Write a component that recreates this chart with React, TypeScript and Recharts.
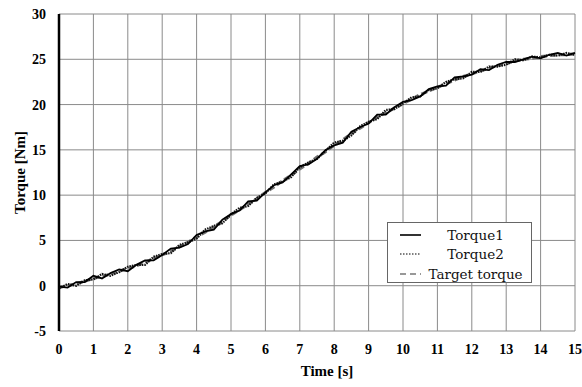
import React from "react";
import { LineChart, Line, XAxis, YAxis, CartesianGrid, Label } from "recharts";

// Sample times (s), every 0.25 s from 0 to 15
const times: number[] = [
  0, 0.25, 0.5, 0.75, 1, 1.25, 1.5, 1.75, 2, 2.25, 2.5, 2.75, 3, 3.25, 3.5, 3.75,
  4, 4.25, 4.5, 4.75, 5, 5.25, 5.5, 5.75, 6, 6.25, 6.5, 6.75, 7, 7.25, 7.5, 7.75,
  8, 8.25, 8.5, 8.75, 9, 9.25, 9.5, 9.75, 10, 10.25, 10.5, 10.75, 11, 11.25, 11.5, 11.75,
  12, 12.25, 12.5, 12.75, 13, 13.25, 13.5, 13.75, 14, 14.25, 14.5, 14.75, 15,
];

// Measured torque, motor 1 (Nm)
const torque1: number[] = [
  -0.1, -0.2, 0.4, 0.4, 1.1, 0.8, 1.4, 1.8, 1.6, 2.3, 2.8, 2.8, 3.4, 4.1, 4.2, 4.6,
  5.6, 6.0, 6.2, 7.3, 7.9, 8.3, 9.3, 9.4, 10.3, 11.1, 11.4, 12.3, 13.2, 13.4, 14.0, 15.0,
  15.5, 15.8, 17.0, 17.5, 17.9, 18.9, 18.9, 19.7, 20.3, 20.5, 20.9, 21.7, 22.0, 22.1, 23.0, 23.1,
  23.3, 23.9, 23.8, 24.4, 24.7, 24.7, 25.0, 25.3, 25.1, 25.5, 25.7, 25.4, 25.7,
];

// Measured torque, motor 2 (Nm)
const torque2: number[] = [
  -0.3, 0.2, 0.0, 0.6, 0.7, 1.3, 1.1, 1.5, 2.1, 2.3, 2.3, 3.2, 3.5, 3.6, 4.5, 4.8,
  5.2, 6.2, 6.6, 6.9, 7.9, 8.6, 8.8, 9.7, 10.2, 11.2, 11.5, 12.0, 13.1, 13.6, 14.0, 14.9,
  15.8, 16.0, 16.6, 17.6, 18.1, 18.4, 19.4, 19.5, 20.1, 20.8, 20.9, 21.6, 21.8, 22.5, 22.8, 22.9,
  23.6, 23.6, 24.2, 24.2, 24.4, 25.0, 24.9, 25.3, 25.2, 25.5, 25.4, 25.7, 25.5,
];

// Commanded torque profile (Nm)
const targetTorque: number[] = [
  -0.2, 0.0, 0.2, 0.5, 0.8, 1.0, 1.3, 1.6, 1.9, 2.2, 2.6, 3.0, 3.4, 3.8, 4.3, 4.8,
  5.4, 5.9, 6.5, 7.1, 7.8, 8.4, 9.0, 9.6, 10.3, 10.9, 11.6, 12.2, 12.9, 13.5, 14.2, 14.8,
  15.5, 16.1, 16.8, 17.4, 18.0, 18.6, 19.1, 19.6, 20.1, 20.6, 21.1, 21.5, 21.9, 22.3, 22.7, 23.1,
  23.4, 23.7, 24.0, 24.3, 24.5, 24.8, 25.0, 25.1, 25.3, 25.4, 25.5, 25.5, 25.6,
];

const xTicks: number[] = [0, 1, 2, 3, 4, 5, 6, 7, 8, 9, 10, 11, 12, 13, 14, 15];
const yTicks: number[] = [-5, 0, 5, 10, 15, 20, 25, 30];

const seriesNames = ["Torque1", "Torque2", "Target torque"];

const data = times.map((t, i) => ({
  t,
  torque1: torque1[i],
  torque2: torque2[i],
  target: targetTorque[i],
}));

const tickFont = {
  fontFamily: "'Liberation Serif', serif",
  fontWeight: 700,
  fontSize: 14,
  fill: "#000",
};

const titleFont = { ...tickFont, fontSize: 15 };

const legendSamples = [
  { stroke: "#000", dash: "none", width: 1.6 },
  { stroke: "#000", dash: "1.5 1.5", width: 1.2 },
  { stroke: "#777", dash: "6 4", width: 1.6 },
];

function LegendBox() {
  return (
    <div
      style={{
        position: "absolute",
        left: 387,
        top: 222,
        width: 145,
        height: 61,
        border: "1px solid #666",
        background: "#fff",
        boxSizing: "border-box",
        fontFamily: "'DejaVu Serif', serif",
        fontSize: 13.5,
        color: "#111",
        paddingTop: 2,
      }}
    >
      {seriesNames.map((name, i) => (
        <div
          key={name}
          style={{ display: "flex", alignItems: "center", height: 19.5 }}
        >
          <svg width={36} height={10} style={{ flex: "none" }}>
            <line
              x1={12}
              x2={33}
              y1={5}
              y2={5}
              stroke={legendSamples[i].stroke}
              strokeWidth={legendSamples[i].width}
              strokeDasharray={legendSamples[i].dash}
            />
          </svg>
          <div style={{ flex: 1, textAlign: "center", whiteSpace: "nowrap", paddingRight: 4 }}>
            {name}
          </div>
        </div>
      ))}
    </div>
  );
}

export default function App() {
  return (
    <div
      style={{
        position: "absolute",
        left: 0,
        top: 0,
        width: 582,
        height: 387,
        background: "#fff",
      }}
    >
      <LineChart
        width={582}
        height={387}
        data={data}
        margin={{ top: 14, right: 7, bottom: 0, left: 0 }}
      >
        <CartesianGrid stroke="#8a8a8a" strokeWidth={1} />
        <XAxis
          dataKey="t"
          type="number"
          domain={[0, 15]}
          ticks={xTicks}
          interval={0}
          axisLine={false}
          tickLine={false}
          tickSize={0}
          tickMargin={13}
          height={56}
          tick={tickFont}
        >
          <Label
            value="Time [s]"
            position="insideBottom"
            offset={11}
            dx={10}
            style={titleFont}
          />
        </XAxis>
        <YAxis
          type="number"
          domain={[-5, 30]}
          ticks={yTicks}
          interval={0}
          axisLine={{ stroke: "#000", strokeWidth: 2.5 }}
          tickLine={false}
          tickSize={0}
          tickMargin={13}
          width={59}
          tick={tickFont}
        >
          <Label
            value="Torque [Nm]"
            angle={-90}
            position="insideLeft"
            offset={20}
            style={{ ...titleFont, textAnchor: "middle" }}
          />
        </YAxis>
        <Line
          type="linear"
          dataKey="target"
          stroke="#707070"
          strokeWidth={3}
          strokeDasharray="6 3"
          dot={false}
          isAnimationActive={false}
        />
        <Line
          type="linear"
          dataKey="torque2"
          stroke="#111"
          strokeWidth={2.2}
          strokeDasharray="1.5 1"
          dot={false}
          isAnimationActive={false}
        />
        <Line
          type="linear"
          dataKey="torque1"
          stroke="#000"
          strokeWidth={1.8}
          dot={false}
          isAnimationActive={false}
        />
      </LineChart>
      <LegendBox />
    </div>
  );
}
